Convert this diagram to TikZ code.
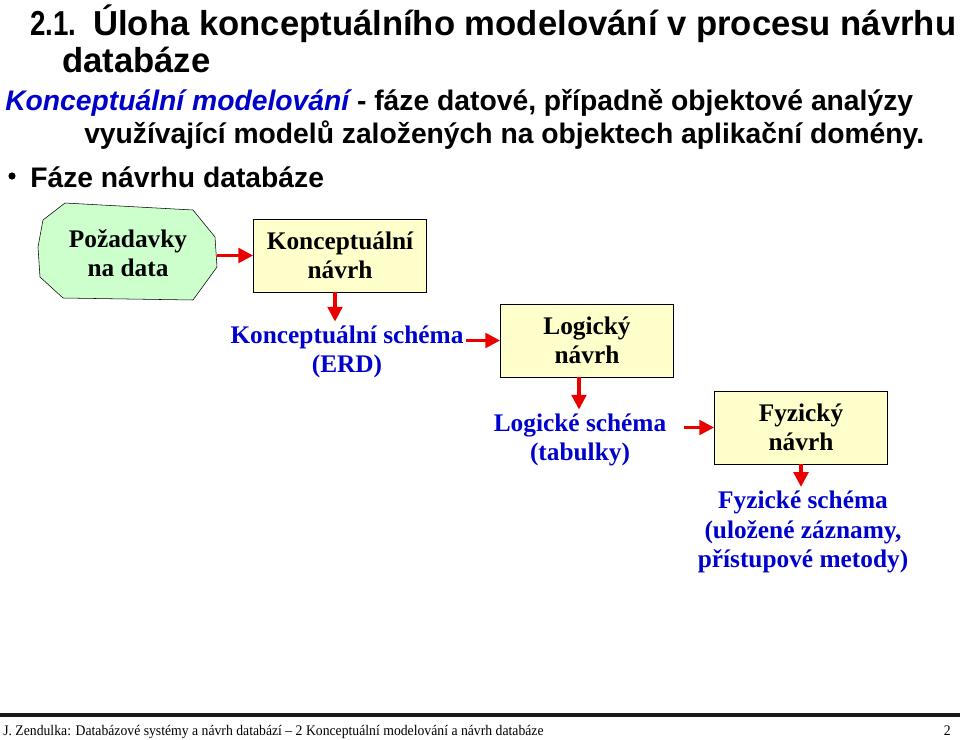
\documentclass[tikz,border=0pt]{standalone}
\usepackage{fontspec}
\usepackage{tikz}
\usetikzlibrary{arrows.meta,positioning}
\setmainfont{Liberation Serif}
\newfontfamily\titlefont{Liberation Sans}
\newfontfamily\numfont[FakeStretch=0.8]{Liberation Sans}
\newfontfamily\slidefont{Liberation Sans}
\newfontfamily\footfont[FakeStretch=0.935]{Liberation Serif}
\definecolor{reqgreen}{RGB}{204,255,204}
\definecolor{stepyellow}{RGB}{255,255,204}
\definecolor{schemablue}{RGB}{0,0,204}
\definecolor{flowred}{RGB}{235,0,0}

\begin{document}
\begin{tikzpicture}[x=0.75pt, y=-0.75pt,
    stepbox/.style={rectangle, draw, fill=stepyellow, minimum width=130pt, minimum height=55pt,
        align=center, font=\fontsize{19}{22}\selectfont\bfseries},
    schema/.style={align=center, inner sep=0pt, text=schemablue, font=\fontsize{19}{22}\selectfont\bfseries},
    flow/.style={-{Triangle[length=11pt,width=11pt]}, flowred, line width=2.3pt}
]
    \useasboundingbox (0,0) rectangle (960,739);

    % Title and text
    \node[anchor=base west, inner sep=0pt, font=\numfont\bfseries\fontsize{26}{30}\selectfont] (num) at (30,35) {2.1.};
    \node[anchor=base west, inner sep=0pt, font=\titlefont\bfseries\fontsize{26}{30}\selectfont] (title) at (93,35)
        {Úloha konceptuálního modelování v procesu návrhu};
    \node[anchor=base west, inner sep=0pt, font=\titlefont\bfseries\fontsize{26}{30}\selectfont] (title2) at (62,72) {databáze};
    \node[anchor=base west, inner sep=0pt, font=\slidefont\bfseries\fontsize{21.2}{25}\selectfont] (intro) at (5,110)
        {\textcolor{schemablue}{\itshape Konceptuální modelování} - fáze datové, případně objektové analýzy};
    \node[anchor=base west, inner sep=0pt, font=\slidefont\bfseries\fontsize{21.2}{25}\selectfont] (intro2) at (84,143)
        {využívající modelů založených na objektech aplikační domény.};
    \node[anchor=base west, inner sep=0pt, font=\slidefont\bfseries\fontsize{21.2}{25}\selectfont] (bullet) at (30,187)
        {Fáze návrhu databáze};
    \fill (12,176) circle (3.6);

    % Requirements shape
    \draw[fill=reqgreen] (65,203) -- (193,210) -- (215,237) -- (217,267) -- (193,300)
        -- (63,298) -- (40,277) -- (38,247) -- (43,220) -- cycle;
    \node[align=center, minimum width=133.5pt, font=\fontsize{19}{22}\selectfont\bfseries] (req) at (128,253)
        {Požadavky\\na data};

    % Design steps
    \node[stepbox] (concept) at (340,255.5) {Konceptuální\\návrh};
    \node[stepbox] (logic) at (587,340.5) {Logický\\návrh};
    \node[stepbox] (phys) at (801,427.5) {Fyzický\\návrh};

    % Resulting schemas
    \node[schema] (cschema) at (347,352) {Konceptuální schéma\\(ERD)};
    \node[schema] (lschema) at (580,440) {Logické schéma\\(tabulky)};
    \node[schema] (pschema) at (803,532) {Fyzické schéma\\(uložené záznamy,\\přístupové metody)};

    % Arrows
    \draw[flow] (req.east |- concept.west) -- (concept.west);
    \draw[flow] ([xshift=-3.75pt]concept.south) -- ([xshift=-3.75pt,yshift=3pt]concept.south |- cschema.north);
    \draw[flow] ([xshift=2pt]cschema.east |- logic.west) -- (logic.west);
    \draw[flow] ([xshift=-6pt]logic.south) -- ([xshift=-6pt,yshift=3pt]logic.south |- lschema.north);
    \draw[flow] ([xshift=13pt]lschema.east |- phys.west) -- (phys.west);
    \draw[flow] (phys.south) -- ([yshift=3pt]phys.south |- pschema.north);

    % Footer
    \draw[line width=2.3pt, black!90] (0,715) -- (960,715);
    \node[anchor=base west, inner sep=0pt, font=\footfont\fontsize{11}{13}\selectfont] (foot) at (3,735)
        {J. Zendulka: Databázové systémy a návrh databází – 2 Konceptuální modelování a návrh databáze};
    \node[anchor=base east, inner sep=0pt, font=\footfont\fontsize{11}{13}\selectfont] (page) at (951,735) {2};
\end{tikzpicture}
\end{document}
